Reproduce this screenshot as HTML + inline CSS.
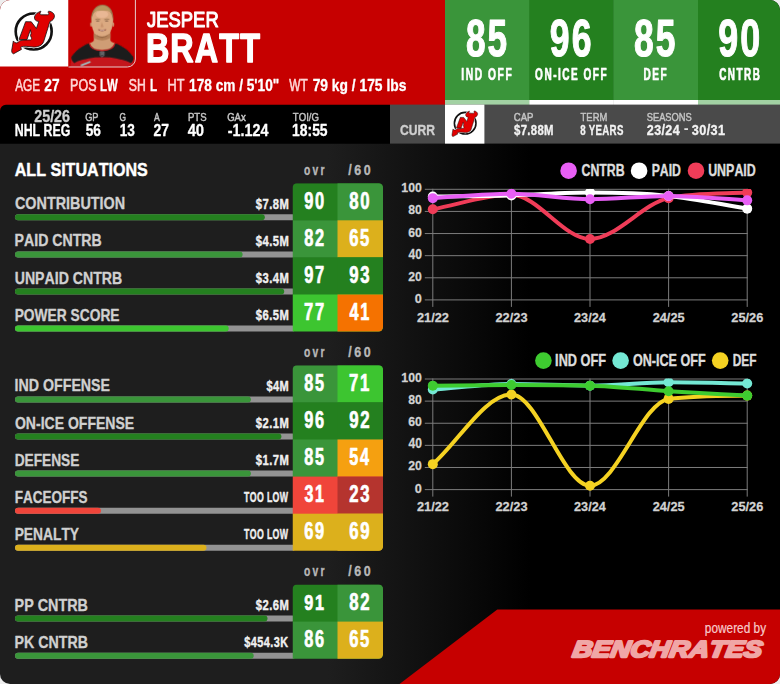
<!DOCTYPE html>
<html><head><meta charset="utf-8"><title>Jesper Bratt</title>
<style>
html,body{margin:0;padding:0;background:#eeeeee;}
body{width:780px;height:684px;overflow:hidden;font-family:"Liberation Sans",sans-serif;}
svg{display:block;font-family:"Liberation Sans",sans-serif;font-kerning:none;}
text{white-space:pre;}
</style></head><body>
<svg width="780" height="684" viewBox="0 0 780 684">
<defs>
<clipPath id="card"><rect x="0" y="0" width="780" height="684" rx="10" ry="10"/></clipPath>
<linearGradient id="bgg" x1="0" y1="0" x2="1" y2="0">
<stop offset="0" stop-color="#1e1e1e"/><stop offset="0.42" stop-color="#1e1e1e"/><stop offset="0.68" stop-color="#000"/><stop offset="1" stop-color="#000"/>
</linearGradient>
<clipPath id="photoclip"><path d="M68.5 0H135.4V59a8 8 0 0 1-8 8H68.5Z"/></clipPath>
<filter id="soft" x="-5%" y="-5%" width="110%" height="110%"><feGaussianBlur stdDeviation="3.2"/></filter>
<g id="devil">
<circle cx="327" cy="302" r="205" fill="#fff" stroke="#111" stroke-width="30"/>
<path d="M235 190L300 192L358 268L385 188C350 186 332 165 336 135C345 100 380 82 408 70C410 74 406 80 402 88C395 100 400 112 420 112L485 112C500 112 505 100 495 92C490 80 492 72 500 70C535 75 558 95 563 118C568 150 545 180 512 188L440 420C425 460 380 480 330 480L250 472C220 470 195 472 178 482L188 506L98 556C85 555 78 545 76 520L95 410L112 428C135 440 150 425 165 410C200 395 250 400 290 398C310 395 305 375 290 350L298 322L290 282L250 395L160 392Z" fill="#fff" stroke="#fff" stroke-width="24" stroke-linejoin="round"/>
<path d="M235 190L300 192L358 268L385 188C350 186 332 165 336 135C345 100 380 82 408 70C410 74 406 80 402 88C395 100 400 112 420 112L485 112C500 112 505 100 495 92C490 80 492 72 500 70C535 75 558 95 563 118C568 150 545 180 512 188L440 420C425 460 380 480 330 480L250 472C220 470 195 472 178 482L188 506L98 556C85 555 78 545 76 520L95 410L112 428C135 440 150 425 165 410C200 395 250 400 290 398C310 395 305 375 290 350L298 322L290 282L250 395L160 392Z" fill="#e00000" stroke="#111" stroke-width="9" stroke-linejoin="round"/>
</g>
</defs>
<g clip-path="url(#card)">
<rect width="780" height="684" fill="url(#bgg)"/>
<rect x="0" y="0" width="446" height="116" fill="#c60000"/>
<rect x="0" y="0" width="68.5" height="66.5" fill="#fff"/>
<use href="#devil" transform="translate(5,5) scale(0.08772)"/>
<path d="M68.5 0H135.4V59a8 8 0 0 1-8 8H68.5Z" fill="#c60000"/>
<g clip-path="url(#photoclip)"><g transform="translate(66,0) scale(0.10225)" filter="url(#soft)">
<path d="M55 560L40 670H665L655 560L528 560L357 540L186 560Z" fill="#c4181c"/>
<path d="M221 424C150 450 90 500 55 553C45 575 60 600 81 618C120 590 200 575 284 562L357 560L430 562C510 575 590 590 636 618C655 600 668 575 655 553C620 500 560 450 484 424L352 500Z" fill="#1d1d1f"/>
<path d="M272 300H434V395C440 410 460 418 478 420C470 470 420 492 352 492C285 492 236 470 228 420C246 418 266 410 272 395Z" fill="#cf9d74"/>
<path d="M272 330H434V372Q352 420 272 372Z" fill="#a9774f" opacity="0.75"/>
<path d="M228 420C236 470 285 494 352 494C420 494 470 470 478 420" fill="none" stroke="#c8161c" stroke-width="12"/>
<path d="M248 200C246 120 290 60 354 60C420 60 462 120 459 200C458 270 440 310 410 340C385 362 320 362 295 340C265 310 250 270 248 200Z" fill="#dba981"/>
<ellipse cx="245" cy="238" rx="9" ry="22" fill="#cf9872"/><ellipse cx="462" cy="238" rx="9" ry="22" fill="#cf9872"/>
<ellipse cx="352" cy="140" rx="62" ry="36" fill="#f0bd9c" opacity="0.7"/>
<path d="M246 215C236 110 290 45 358 47C428 48 472 110 462 215C456 160 440 120 420 108C390 96 320 96 292 108C268 122 252 160 246 215Z" fill="#9c7a50"/>
<path d="M268 120C290 70 330 55 358 55C390 55 425 72 442 120C410 92 300 92 268 120Z" fill="#b8965f"/>
<path d="M286 190Q310 180 336 192M374 192Q398 180 424 190" stroke="#8f6a48" stroke-width="9" fill="none" opacity="0.8"/>
<ellipse cx="310" cy="205" rx="18" ry="8" fill="#7d5a40" opacity="0.75"/><ellipse cx="398" cy="205" rx="18" ry="8" fill="#7d5a40" opacity="0.75"/>
<path d="M350 215L338 262Q352 272 368 262Z" fill="#c48d68" opacity="0.8"/>
<path d="M316 290Q352 318 392 290Q352 300 316 290Z" fill="#8a4a40" stroke="#8a4a40" stroke-width="5"/>
<path d="M334 296Q352 302 374 296" stroke="#f3e6de" stroke-width="6" fill="none"/>
<path d="M300 345Q352 385 406 345" stroke="#8a5c3e" stroke-width="10" fill="none" opacity="0.7"/>
<path d="M334 506H372V542L353 556L334 542Z" fill="#3a3a3e" stroke="#a8a8ac" stroke-width="5"/>
<path d="M342 518H364M342 530H364" stroke="#c8c8cc" stroke-width="4"/>
<path d="M140 632L235 596L242 610L150 648Z" fill="#9cc4c8"/>
</g></g>
<path d="M135.4 0V59a8 8 0 0 1-8 8H68.5" fill="none" stroke="#e6cccc" stroke-width="1"/>
<text transform="translate(147.01 26.80) scale(0.8403 1)" font-size="21.95" font-weight="normal" fill="#fff" stroke="#fff" stroke-width="1.0" vector-effect="non-scaling-stroke" stroke-linejoin="round">JESPER</text>
<text transform="translate(145.89 62.20) scale(0.7863 1)" font-size="41.13" font-weight="bold" fill="#fff" letter-spacing="1.44" stroke="#fff" stroke-width="1.3" vector-effect="non-scaling-stroke" stroke-linejoin="round">BRATT</text>
<text transform="translate(15.23 90.80) scale(0.7520 1)" font-size="15.70" font-weight="normal" fill="#ffd6d6" stroke="#ffd6d6" stroke-width="0.5" vector-effect="non-scaling-stroke" stroke-linejoin="round">AGE</text>
<text transform="translate(44.37 90.80) scale(0.8751 1)" font-size="15.70" font-weight="bold" fill="#fff" stroke="#fff" stroke-width="0.3" vector-effect="non-scaling-stroke" stroke-linejoin="round">27</text>
<text transform="translate(70.12 90.80) scale(0.7963 1)" font-size="15.70" font-weight="normal" fill="#ffd6d6" stroke="#ffd6d6" stroke-width="0.5" vector-effect="non-scaling-stroke" stroke-linejoin="round">POS</text>
<text transform="translate(100.09 90.80) scale(0.7284 1)" font-size="15.70" font-weight="bold" fill="#fff" stroke="#fff" stroke-width="0.3" vector-effect="non-scaling-stroke" stroke-linejoin="round">LW</text>
<text transform="translate(128.80 90.80) scale(0.7772 1)" font-size="15.70" font-weight="normal" fill="#ffd6d6" stroke="#ffd6d6" stroke-width="0.5" vector-effect="non-scaling-stroke" stroke-linejoin="round">SH</text>
<text transform="translate(150.07 90.80) scale(0.7448 1)" font-size="15.70" font-weight="bold" fill="#fff" stroke="#fff" stroke-width="0.3" vector-effect="non-scaling-stroke" stroke-linejoin="round">L</text>
<text transform="translate(167.51 90.80) scale(0.8092 1)" font-size="15.70" font-weight="normal" fill="#ffd6d6" stroke="#ffd6d6" stroke-width="0.5" vector-effect="non-scaling-stroke" stroke-linejoin="round">HT</text>
<text transform="translate(189.09 90.80) scale(0.8705 1)" font-size="15.70" font-weight="bold" fill="#fff" stroke="#fff" stroke-width="0.3" vector-effect="non-scaling-stroke" stroke-linejoin="round">178 cm / 5'10&quot;</text>
<text transform="translate(289.30 90.80) scale(0.7591 1)" font-size="15.70" font-weight="normal" fill="#ffd6d6" stroke="#ffd6d6" stroke-width="0.5" vector-effect="non-scaling-stroke" stroke-linejoin="round">WT</text>
<text transform="translate(312.66 90.80) scale(0.8807 1)" font-size="15.70" font-weight="bold" fill="#fff" stroke="#fff" stroke-width="0.3" vector-effect="non-scaling-stroke" stroke-linejoin="round">79 kg / 175 lbs</text>
<rect x="445" y="0" width="84.9" height="100" fill="#3a953a"/>
<rect x="445" y="100" width="84.9" height="5" fill="#a2d1a3"/>
<text transform="translate(465.88 56.40) scale(0.6867 1)" font-size="51.30" font-weight="bold" fill="#fff" letter-spacing="3.08" stroke="#fff" stroke-width="1.0" vector-effect="non-scaling-stroke" stroke-linejoin="round">85</text>
<text transform="translate(461.29 79.90) scale(0.6210 1)" font-size="16.57" font-weight="bold" fill="#fff" letter-spacing="2.49" stroke="#fff" stroke-width="0.55" vector-effect="non-scaling-stroke" stroke-linejoin="round">IND OFF</text>
<rect x="529.4" y="0" width="84.4" height="100" fill="#24801f"/>
<rect x="529.4" y="100" width="84.4" height="5" fill="#fff"/>
<text transform="translate(549.87 56.40) scale(0.6937 1)" font-size="51.30" font-weight="bold" fill="#fff" letter-spacing="3.08" stroke="#fff" stroke-width="1.0" vector-effect="non-scaling-stroke" stroke-linejoin="round">96</text>
<text transform="translate(535.06 79.90) scale(0.6065 1)" font-size="16.57" font-weight="bold" fill="#fff" letter-spacing="2.49" stroke="#fff" stroke-width="0.55" vector-effect="non-scaling-stroke" stroke-linejoin="round">ON-ICE OFF</text>
<rect x="613.3" y="0" width="85.2" height="100" fill="#3a953a"/>
<rect x="613.3" y="100" width="85.2" height="5" fill="#fff"/>
<text transform="translate(633.98 56.40) scale(0.6902 1)" font-size="51.30" font-weight="bold" fill="#fff" letter-spacing="3.08" stroke="#fff" stroke-width="1.0" vector-effect="non-scaling-stroke" stroke-linejoin="round">85</text>
<text transform="translate(643.40 79.90) scale(0.6086 1)" font-size="16.57" font-weight="bold" fill="#fff" letter-spacing="2.49" stroke="#fff" stroke-width="0.55" vector-effect="non-scaling-stroke" stroke-linejoin="round">DEF</text>
<rect x="698" y="0" width="82.5" height="100" fill="#24801f"/>
<rect x="698" y="100" width="82.5" height="5" fill="#a2d1a3"/>
<text transform="translate(718.16 56.40) scale(0.6986 1)" font-size="51.30" font-weight="bold" fill="#fff" letter-spacing="3.08" stroke="#fff" stroke-width="1.0" vector-effect="non-scaling-stroke" stroke-linejoin="round">90</text>
<text transform="translate(719.17 79.90) scale(0.5993 1)" font-size="16.57" font-weight="bold" fill="#fff" letter-spacing="2.49" stroke="#fff" stroke-width="0.55" vector-effect="non-scaling-stroke" stroke-linejoin="round">CNTRB</text>
<path d="M0 143.7V110.7a6 6 0 0 1 6-6H390V143.7Z" fill="#000"/>
<rect x="390" y="104.6" width="390" height="39" fill="#4a4a4a"/>
<rect x="445" y="104.6" width="39.4" height="39" fill="#fff"/>
<use href="#devil" transform="translate(447.95,107.3) scale(0.0527)"/>
<text transform="translate(34.25 121.90) scale(0.8951 1)" font-size="15.99" font-weight="bold" fill="#cfcfcf" stroke="#cfcfcf" stroke-width="0.3" vector-effect="non-scaling-stroke" stroke-linejoin="round">25/26</text>
<text transform="translate(14.72 135.60) scale(0.7798 1)" font-size="15.84" font-weight="bold" fill="#fff" stroke="#fff" stroke-width="0.3" vector-effect="non-scaling-stroke" stroke-linejoin="round">NHL REG</text>
<text transform="translate(85.16 120.90) scale(0.7800 1)" font-size="11.80" font-weight="normal" fill="#c4c4c4" stroke="#c4c4c4" stroke-width="0.45" vector-effect="non-scaling-stroke" stroke-linejoin="round">GP</text>
<text transform="translate(85.63 135.60) scale(0.8634 1)" font-size="15.84" font-weight="bold" fill="#fff" stroke="#fff" stroke-width="0.3" vector-effect="non-scaling-stroke" stroke-linejoin="round">56</text>
<text transform="translate(119.51 120.90) scale(0.7075 1)" font-size="11.80" font-weight="normal" fill="#c4c4c4" stroke="#c4c4c4" stroke-width="0.45" vector-effect="non-scaling-stroke" stroke-linejoin="round">G</text>
<text transform="translate(119.79 135.60) scale(0.8597 1)" font-size="15.84" font-weight="bold" fill="#fff" stroke="#fff" stroke-width="0.3" vector-effect="non-scaling-stroke" stroke-linejoin="round">13</text>
<text transform="translate(154.01 120.90) scale(0.7349 1)" font-size="11.80" font-weight="normal" fill="#c4c4c4" stroke="#c4c4c4" stroke-width="0.45" vector-effect="non-scaling-stroke" stroke-linejoin="round">A</text>
<text transform="translate(153.47 135.60) scale(0.8793 1)" font-size="15.84" font-weight="bold" fill="#fff" stroke="#fff" stroke-width="0.3" vector-effect="non-scaling-stroke" stroke-linejoin="round">27</text>
<text transform="translate(187.94 120.90) scale(0.8139 1)" font-size="11.80" font-weight="normal" fill="#c4c4c4" stroke="#c4c4c4" stroke-width="0.45" vector-effect="non-scaling-stroke" stroke-linejoin="round">PTS</text>
<text transform="translate(187.63 135.60) scale(0.9323 1)" font-size="15.84" font-weight="bold" fill="#fff" stroke="#fff" stroke-width="0.3" vector-effect="non-scaling-stroke" stroke-linejoin="round">40</text>
<text transform="translate(227.14 120.90) scale(0.8120 1)" font-size="11.80" font-weight="normal" fill="#c4c4c4" stroke="#c4c4c4" stroke-width="0.45" vector-effect="non-scaling-stroke" stroke-linejoin="round">GAx</text>
<text transform="translate(227.79 135.60) scale(0.9046 1)" font-size="15.84" font-weight="bold" fill="#fff" stroke="#fff" stroke-width="0.3" vector-effect="non-scaling-stroke" stroke-linejoin="round">-1.124</text>
<text transform="translate(292.81 120.90) scale(0.8152 1)" font-size="11.80" font-weight="normal" fill="#c4c4c4" stroke="#c4c4c4" stroke-width="0.45" vector-effect="non-scaling-stroke" stroke-linejoin="round">TOI/G</text>
<text transform="translate(292.07 135.60) scale(0.8777 1)" font-size="15.84" font-weight="bold" fill="#fff" stroke="#fff" stroke-width="0.3" vector-effect="non-scaling-stroke" stroke-linejoin="round">18:55</text>
<text transform="translate(400.08 135.40) scale(0.7790 1)" font-size="15.55" font-weight="bold" fill="#cfcfcf" stroke="#cfcfcf" stroke-width="0.35" vector-effect="non-scaling-stroke" stroke-linejoin="round">CURR</text>
<text transform="translate(513.74 121.30) scale(0.8138 1)" font-size="11.80" font-weight="normal" fill="#c4c4c4" stroke="#c4c4c4" stroke-width="0.45" vector-effect="non-scaling-stroke" stroke-linejoin="round">CAP</text>
<text transform="translate(514.00 135.30) scale(0.8230 1)" font-size="13.81" font-weight="bold" fill="#f2f2f2" letter-spacing="0.41" stroke="#f2f2f2" stroke-width="0.3" vector-effect="non-scaling-stroke" stroke-linejoin="round">$7.88M</text>
<text transform="translate(580.61 121.30) scale(0.7998 1)" font-size="11.80" font-weight="normal" fill="#c4c4c4" stroke="#c4c4c4" stroke-width="0.45" vector-effect="non-scaling-stroke" stroke-linejoin="round">TERM</text>
<text transform="translate(580.14 135.30) scale(0.7030 1)" font-size="13.81" font-weight="bold" fill="#f2f2f2" letter-spacing="0.41" stroke="#f2f2f2" stroke-width="0.3" vector-effect="non-scaling-stroke" stroke-linejoin="round">8 YEARS</text>
<text transform="translate(646.70 121.30) scale(0.7923 1)" font-size="11.80" font-weight="normal" fill="#c4c4c4" stroke="#c4c4c4" stroke-width="0.45" vector-effect="non-scaling-stroke" stroke-linejoin="round">SEASONS</text>
<text transform="translate(646.82 135.30) scale(0.9086 1)" font-size="13.81" font-weight="bold" fill="#f2f2f2" letter-spacing="0.41" stroke="#f2f2f2" stroke-width="0.3" vector-effect="non-scaling-stroke" stroke-linejoin="round">23/24</text>
<rect x="684.3" y="128.3" width="3.7" height="1.6" fill="#f2f2f2"/>
<text transform="translate(691.76 135.30) scale(0.9209 1)" font-size="13.81" font-weight="bold" fill="#f2f2f2" letter-spacing="0.41" stroke="#f2f2f2" stroke-width="0.3" vector-effect="non-scaling-stroke" stroke-linejoin="round">30/31</text>
<text transform="translate(14.70 175.90) scale(0.9145 1)" font-size="17.59" font-weight="bold" fill="#fff" stroke="#fff" stroke-width="0.4" vector-effect="non-scaling-stroke" stroke-linejoin="round">ALL SITUATIONS</text>
<text transform="translate(303.97 174.80) scale(0.7036 1)" font-size="14.60" font-weight="bold" fill="#b8b8b8" letter-spacing="3.21" stroke="#b8b8b8" stroke-width="0.35" vector-effect="non-scaling-stroke" stroke-linejoin="round">ovr</text>
<text transform="translate(348.35 174.80) scale(0.8704 1)" font-size="14.30" font-weight="bold" fill="#b8b8b8" letter-spacing="2.86" stroke="#b8b8b8" stroke-width="0.35" vector-effect="non-scaling-stroke" stroke-linejoin="round">/60</text>
<clipPath id="cc0"><path d="M292.5 331.6V187.7a4.5 4.5 0 0 1 4.5 -4.5H378.5a4.5 4.5 0 0 1 4.5 4.5V327.1a4.5 4.5 0 0 1 -4.5 4.5Z"/></clipPath>
<text transform="translate(14.96 209.30) scale(0.8605 1)" font-size="16.72" font-weight="bold" fill="#d0d0d0" stroke="#d0d0d0" stroke-width="0.3" vector-effect="non-scaling-stroke" stroke-linejoin="round">CONTRIBUTION</text>
<text transform="translate(255.83 208.90) scale(0.7869 1)" font-size="14.24" font-weight="bold" fill="#f0f0f0" letter-spacing="0.57" stroke="#f0f0f0" stroke-width="0.35" vector-effect="non-scaling-stroke" stroke-linejoin="round">$7.8M</text>
<rect x="15" y="214.3" width="280.5" height="6" rx="3" fill="#939393"/>
<rect x="15" y="214.3" width="249.8" height="6" rx="3" fill="#24801f"/>
<text transform="translate(14.60 246.40) scale(0.8459 1)" font-size="16.72" font-weight="bold" fill="#d0d0d0" stroke="#d0d0d0" stroke-width="0.3" vector-effect="non-scaling-stroke" stroke-linejoin="round">PAID CNTRB</text>
<text transform="translate(255.83 246.00) scale(0.7869 1)" font-size="14.24" font-weight="bold" fill="#f0f0f0" letter-spacing="0.57" stroke="#f0f0f0" stroke-width="0.35" vector-effect="non-scaling-stroke" stroke-linejoin="round">$4.5M</text>
<rect x="15" y="251.4" width="280.5" height="6" rx="3" fill="#939393"/>
<rect x="15" y="251.4" width="227.6" height="6" rx="3" fill="#3a953a"/>
<text transform="translate(14.70 283.50) scale(0.8457 1)" font-size="16.72" font-weight="bold" fill="#d0d0d0" stroke="#d0d0d0" stroke-width="0.3" vector-effect="non-scaling-stroke" stroke-linejoin="round">UNPAID CNTRB</text>
<text transform="translate(255.83 283.10) scale(0.7869 1)" font-size="14.24" font-weight="bold" fill="#f0f0f0" letter-spacing="0.57" stroke="#f0f0f0" stroke-width="0.35" vector-effect="non-scaling-stroke" stroke-linejoin="round">$3.4M</text>
<rect x="15" y="288.5" width="280.5" height="6" rx="3" fill="#939393"/>
<rect x="15" y="288.5" width="269.2" height="6" rx="3" fill="#24801f"/>
<text transform="translate(14.63 320.60) scale(0.8250 1)" font-size="16.72" font-weight="bold" fill="#d0d0d0" stroke="#d0d0d0" stroke-width="0.3" vector-effect="non-scaling-stroke" stroke-linejoin="round">POWER SCORE</text>
<text transform="translate(255.83 320.20) scale(0.7869 1)" font-size="14.24" font-weight="bold" fill="#f0f0f0" letter-spacing="0.57" stroke="#f0f0f0" stroke-width="0.35" vector-effect="non-scaling-stroke" stroke-linejoin="round">$6.5M</text>
<rect x="15" y="325.6" width="280.5" height="6" rx="3" fill="#939393"/>
<rect x="15" y="325.6" width="213.7" height="6" rx="3" fill="#3dc530"/>
<g clip-path="url(#cc0)">
<rect x="292.5" y="183.2" width="90.5" height="37.6" fill="#24801f"/>
<rect x="337.5" y="183.2" width="45.5" height="37.6" fill="#3a953a"/>
<rect x="292.5" y="220.3" width="90.5" height="37.6" fill="#3a953a"/>
<rect x="337.5" y="220.3" width="45.5" height="37.6" fill="#dcb01c"/>
<rect x="292.5" y="257.4" width="90.5" height="37.6" fill="#24801f"/>
<rect x="337.5" y="257.4" width="45.5" height="37.6" fill="#24801f"/>
<rect x="292.5" y="294.5" width="90.5" height="37.6" fill="#3dc530"/>
<rect x="337.5" y="294.5" width="45.5" height="37.6" fill="#f57200"/>
</g>
<text transform="translate(304.23 208.50) scale(0.7153 1)" font-size="23.00" font-weight="bold" fill="#fff" letter-spacing="2.30" stroke="#fff" stroke-width="0.6" vector-effect="non-scaling-stroke" stroke-linejoin="round">90</text>
<text transform="translate(349.27 208.50) scale(0.7287 1)" font-size="23.00" font-weight="bold" fill="#fff" letter-spacing="2.30" stroke="#fff" stroke-width="0.6" vector-effect="non-scaling-stroke" stroke-linejoin="round">80</text>
<text transform="translate(304.28 245.60) scale(0.7129 1)" font-size="23.00" font-weight="bold" fill="#fff" letter-spacing="2.30" stroke="#fff" stroke-width="0.6" vector-effect="non-scaling-stroke" stroke-linejoin="round">82</text>
<text transform="translate(349.19 245.60) scale(0.7235 1)" font-size="23.00" font-weight="bold" fill="#fff" letter-spacing="2.30" stroke="#fff" stroke-width="0.6" vector-effect="non-scaling-stroke" stroke-linejoin="round">65</text>
<text transform="translate(304.23 282.70) scale(0.7172 1)" font-size="23.00" font-weight="bold" fill="#fff" letter-spacing="2.30" stroke="#fff" stroke-width="0.6" vector-effect="non-scaling-stroke" stroke-linejoin="round">97</text>
<text transform="translate(349.22 282.70) scale(0.7275 1)" font-size="23.00" font-weight="bold" fill="#fff" letter-spacing="2.30" stroke="#fff" stroke-width="0.6" vector-effect="non-scaling-stroke" stroke-linejoin="round">93</text>
<text transform="translate(304.09 319.80) scale(0.7225 1)" font-size="23.00" font-weight="bold" fill="#fff" letter-spacing="2.30" stroke="#fff" stroke-width="0.6" vector-effect="non-scaling-stroke" stroke-linejoin="round">77</text>
<text transform="translate(349.55 319.80) scale(0.7102 1)" font-size="23.00" font-weight="bold" fill="#fff" letter-spacing="2.30" stroke="#fff" stroke-width="0.6" vector-effect="non-scaling-stroke" stroke-linejoin="round">41</text>
<text transform="translate(303.97 356.90) scale(0.7036 1)" font-size="14.60" font-weight="bold" fill="#b8b8b8" letter-spacing="3.21" stroke="#b8b8b8" stroke-width="0.35" vector-effect="non-scaling-stroke" stroke-linejoin="round">ovr</text>
<text transform="translate(348.35 356.90) scale(0.8704 1)" font-size="14.30" font-weight="bold" fill="#b8b8b8" letter-spacing="2.86" stroke="#b8b8b8" stroke-width="0.35" vector-effect="non-scaling-stroke" stroke-linejoin="round">/60</text>
<clipPath id="cc1"><path d="M292.5 550.8V369.8a4.5 4.5 0 0 1 4.5 -4.5H378.5a4.5 4.5 0 0 1 4.5 4.5V546.3a4.5 4.5 0 0 1 -4.5 4.5Z"/></clipPath>
<text transform="translate(14.60 391.40) scale(0.8499 1)" font-size="16.72" font-weight="bold" fill="#d0d0d0" stroke="#d0d0d0" stroke-width="0.3" vector-effect="non-scaling-stroke" stroke-linejoin="round">IND OFFENSE</text>
<text transform="translate(266.53 391.00) scale(0.7705 1)" font-size="14.24" font-weight="bold" fill="#f0f0f0" letter-spacing="0.57" stroke="#f0f0f0" stroke-width="0.35" vector-effect="non-scaling-stroke" stroke-linejoin="round">$4M</text>
<rect x="15" y="396.4" width="280.5" height="6" rx="3" fill="#939393"/>
<rect x="15" y="396.4" width="235.9" height="6" rx="3" fill="#3a953a"/>
<text transform="translate(14.97 428.50) scale(0.8391 1)" font-size="16.72" font-weight="bold" fill="#d0d0d0" stroke="#d0d0d0" stroke-width="0.3" vector-effect="non-scaling-stroke" stroke-linejoin="round">ON-ICE OFFENSE</text>
<text transform="translate(255.83 428.10) scale(0.7869 1)" font-size="14.24" font-weight="bold" fill="#f0f0f0" letter-spacing="0.57" stroke="#f0f0f0" stroke-width="0.35" vector-effect="non-scaling-stroke" stroke-linejoin="round">$2.1M</text>
<rect x="15" y="433.5" width="280.5" height="6" rx="3" fill="#939393"/>
<rect x="15" y="433.5" width="266.4" height="6" rx="3" fill="#24801f"/>
<text transform="translate(14.63 465.60) scale(0.8202 1)" font-size="16.72" font-weight="bold" fill="#d0d0d0" stroke="#d0d0d0" stroke-width="0.3" vector-effect="non-scaling-stroke" stroke-linejoin="round">DEFENSE</text>
<text transform="translate(255.83 465.20) scale(0.7869 1)" font-size="14.24" font-weight="bold" fill="#f0f0f0" letter-spacing="0.57" stroke="#f0f0f0" stroke-width="0.35" vector-effect="non-scaling-stroke" stroke-linejoin="round">$1.7M</text>
<rect x="15" y="470.6" width="280.5" height="6" rx="3" fill="#939393"/>
<rect x="15" y="470.6" width="235.9" height="6" rx="3" fill="#3a953a"/>
<text transform="translate(14.64 502.70) scale(0.8097 1)" font-size="16.72" font-weight="bold" fill="#d0d0d0" stroke="#d0d0d0" stroke-width="0.3" vector-effect="non-scaling-stroke" stroke-linejoin="round">FACEOFFS</text>
<text transform="translate(244.08 502.30) scale(0.6151 1)" font-size="14.24" font-weight="bold" fill="#f0f0f0" letter-spacing="0.57" stroke="#f0f0f0" stroke-width="0.35" vector-effect="non-scaling-stroke" stroke-linejoin="round">TOO LOW</text>
<rect x="15" y="507.7" width="280.5" height="6" rx="3" fill="#939393"/>
<rect x="15" y="507.7" width="86.0" height="6" rx="3" fill="#f0453a"/>
<text transform="translate(14.63 539.80) scale(0.8261 1)" font-size="16.72" font-weight="bold" fill="#d0d0d0" stroke="#d0d0d0" stroke-width="0.3" vector-effect="non-scaling-stroke" stroke-linejoin="round">PENALTY</text>
<text transform="translate(244.08 539.40) scale(0.6151 1)" font-size="14.24" font-weight="bold" fill="#f0f0f0" letter-spacing="0.57" stroke="#f0f0f0" stroke-width="0.35" vector-effect="non-scaling-stroke" stroke-linejoin="round">TOO LOW</text>
<rect x="15" y="544.8" width="280.5" height="6" rx="3" fill="#939393"/>
<rect x="15" y="544.8" width="191.5" height="6" rx="3" fill="#dcb01c"/>
<g clip-path="url(#cc1)">
<rect x="292.5" y="365.3" width="90.5" height="37.6" fill="#3a953a"/>
<rect x="337.5" y="365.3" width="45.5" height="37.6" fill="#3dc530"/>
<rect x="292.5" y="402.4" width="90.5" height="37.6" fill="#24801f"/>
<rect x="337.5" y="402.4" width="45.5" height="37.6" fill="#24801f"/>
<rect x="292.5" y="439.5" width="90.5" height="37.6" fill="#3a953a"/>
<rect x="337.5" y="439.5" width="45.5" height="37.6" fill="#f5a010"/>
<rect x="292.5" y="476.6" width="90.5" height="37.6" fill="#f0453a"/>
<rect x="337.5" y="476.6" width="45.5" height="37.6" fill="#b5342e"/>
<rect x="292.5" y="513.7" width="90.5" height="37.6" fill="#dcb01c"/>
<rect x="337.5" y="513.7" width="45.5" height="37.6" fill="#dcb01c"/>
</g>
<text transform="translate(304.29 390.60) scale(0.7053 1)" font-size="23.00" font-weight="bold" fill="#fff" letter-spacing="2.30" stroke="#fff" stroke-width="0.6" vector-effect="non-scaling-stroke" stroke-linejoin="round">85</text>
<text transform="translate(349.08 390.60) scale(0.7275 1)" font-size="23.00" font-weight="bold" fill="#fff" letter-spacing="2.30" stroke="#fff" stroke-width="0.6" vector-effect="non-scaling-stroke" stroke-linejoin="round">71</text>
<text transform="translate(304.23 427.70) scale(0.7123 1)" font-size="23.00" font-weight="bold" fill="#fff" letter-spacing="2.30" stroke="#fff" stroke-width="0.6" vector-effect="non-scaling-stroke" stroke-linejoin="round">96</text>
<text transform="translate(349.22 427.70) scale(0.7300 1)" font-size="23.00" font-weight="bold" fill="#fff" letter-spacing="2.30" stroke="#fff" stroke-width="0.6" vector-effect="non-scaling-stroke" stroke-linejoin="round">92</text>
<text transform="translate(304.29 464.80) scale(0.7053 1)" font-size="23.00" font-weight="bold" fill="#fff" letter-spacing="2.30" stroke="#fff" stroke-width="0.6" vector-effect="non-scaling-stroke" stroke-linejoin="round">85</text>
<text transform="translate(349.30 464.80) scale(0.7060 1)" font-size="23.00" font-weight="bold" fill="#fff" letter-spacing="2.30" stroke="#fff" stroke-width="0.6" vector-effect="non-scaling-stroke" stroke-linejoin="round">54</text>
<text transform="translate(304.43 501.90) scale(0.7000 1)" font-size="23.00" font-weight="bold" fill="#fff" letter-spacing="2.30" stroke="#fff" stroke-width="0.6" vector-effect="non-scaling-stroke" stroke-linejoin="round">31</text>
<text transform="translate(349.22 501.90) scale(0.7275 1)" font-size="23.00" font-weight="bold" fill="#fff" letter-spacing="2.30" stroke="#fff" stroke-width="0.6" vector-effect="non-scaling-stroke" stroke-linejoin="round">23</text>
<text transform="translate(304.20 539.00) scale(0.7141 1)" font-size="23.00" font-weight="bold" fill="#fff" letter-spacing="2.30" stroke="#fff" stroke-width="0.6" vector-effect="non-scaling-stroke" stroke-linejoin="round">69</text>
<text transform="translate(349.19 539.00) scale(0.7294 1)" font-size="23.00" font-weight="bold" fill="#fff" letter-spacing="2.30" stroke="#fff" stroke-width="0.6" vector-effect="non-scaling-stroke" stroke-linejoin="round">69</text>
<text transform="translate(303.97 576.10) scale(0.7036 1)" font-size="14.60" font-weight="bold" fill="#b8b8b8" letter-spacing="3.21" stroke="#b8b8b8" stroke-width="0.35" vector-effect="non-scaling-stroke" stroke-linejoin="round">ovr</text>
<text transform="translate(348.35 576.10) scale(0.8704 1)" font-size="14.30" font-weight="bold" fill="#b8b8b8" letter-spacing="2.86" stroke="#b8b8b8" stroke-width="0.35" vector-effect="non-scaling-stroke" stroke-linejoin="round">/60</text>
<clipPath id="cc2"><path d="M292.5 658.7V589.0a4.5 4.5 0 0 1 4.5 -4.5H378.5a4.5 4.5 0 0 1 4.5 4.5V654.2a4.5 4.5 0 0 1 -4.5 4.5Z"/></clipPath>
<text transform="translate(14.59 610.60) scale(0.8593 1)" font-size="16.72" font-weight="bold" fill="#d0d0d0" stroke="#d0d0d0" stroke-width="0.3" vector-effect="non-scaling-stroke" stroke-linejoin="round">PP CNTRB</text>
<text transform="translate(255.83 610.20) scale(0.7869 1)" font-size="14.24" font-weight="bold" fill="#f0f0f0" letter-spacing="0.57" stroke="#f0f0f0" stroke-width="0.35" vector-effect="non-scaling-stroke" stroke-linejoin="round">$2.6M</text>
<rect x="15" y="615.6" width="280.5" height="6" rx="3" fill="#939393"/>
<rect x="15" y="615.6" width="252.5" height="6" rx="3" fill="#24801f"/>
<text transform="translate(14.60 647.70) scale(0.8499 1)" font-size="16.72" font-weight="bold" fill="#d0d0d0" stroke="#d0d0d0" stroke-width="0.3" vector-effect="non-scaling-stroke" stroke-linejoin="round">PK CNTRB</text>
<text transform="translate(244.33 647.30) scale(0.7647 1)" font-size="14.24" font-weight="bold" fill="#f0f0f0" letter-spacing="0.57" stroke="#f0f0f0" stroke-width="0.35" vector-effect="non-scaling-stroke" stroke-linejoin="round">$454.3K</text>
<rect x="15" y="652.7" width="280.5" height="6" rx="3" fill="#939393"/>
<rect x="15" y="652.7" width="238.7" height="6" rx="3" fill="#3a953a"/>
<g clip-path="url(#cc2)">
<rect x="292.5" y="584.5" width="90.5" height="37.6" fill="#24801f"/>
<rect x="337.5" y="584.5" width="45.5" height="37.6" fill="#3a953a"/>
<rect x="292.5" y="621.6" width="90.5" height="37.6" fill="#3a953a"/>
<rect x="337.5" y="621.6" width="45.5" height="37.6" fill="#dcb01c"/>
</g>
<text transform="translate(304.24 609.80) scale(0.7071 1)" font-size="23.00" font-weight="bold" fill="#fff" letter-spacing="2.30" stroke="#fff" stroke-width="0.6" vector-effect="non-scaling-stroke" stroke-linejoin="round">91</text>
<text transform="translate(349.27 609.80) scale(0.7281 1)" font-size="23.00" font-weight="bold" fill="#fff" letter-spacing="2.30" stroke="#fff" stroke-width="0.6" vector-effect="non-scaling-stroke" stroke-linejoin="round">82</text>
<text transform="translate(304.28 646.90) scale(0.7104 1)" font-size="23.00" font-weight="bold" fill="#fff" letter-spacing="2.30" stroke="#fff" stroke-width="0.6" vector-effect="non-scaling-stroke" stroke-linejoin="round">86</text>
<text transform="translate(349.19 646.90) scale(0.7235 1)" font-size="23.00" font-weight="bold" fill="#fff" letter-spacing="2.30" stroke="#fff" stroke-width="0.6" vector-effect="non-scaling-stroke" stroke-linejoin="round">65</text>
<rect x="424.8" y="188.80" width="322.9" height="1" fill="#7c7c7c"/>
<text transform="translate(401.35 192.30) scale(0.8981 1)" font-size="13.70" font-weight="bold" fill="#d2d2d2" stroke="#d2d2d2" stroke-width="0.25" vector-effect="non-scaling-stroke" stroke-linejoin="round">100</text>
<rect x="424.8" y="210.92" width="322.9" height="1" fill="#7c7c7c"/>
<text transform="translate(408.24 214.42) scale(0.8952 1)" font-size="13.70" font-weight="bold" fill="#d2d2d2" stroke="#d2d2d2" stroke-width="0.25" vector-effect="non-scaling-stroke" stroke-linejoin="round">80</text>
<rect x="424.8" y="233.04" width="322.9" height="1" fill="#7c7c7c"/>
<text transform="translate(408.17 236.54) scale(0.8995 1)" font-size="13.70" font-weight="bold" fill="#d2d2d2" stroke="#d2d2d2" stroke-width="0.25" vector-effect="non-scaling-stroke" stroke-linejoin="round">60</text>
<rect x="424.8" y="255.16" width="322.9" height="1" fill="#7c7c7c"/>
<text transform="translate(408.44 258.66) scale(0.8812 1)" font-size="13.70" font-weight="bold" fill="#d2d2d2" stroke="#d2d2d2" stroke-width="0.25" vector-effect="non-scaling-stroke" stroke-linejoin="round">40</text>
<rect x="424.8" y="277.28" width="322.9" height="1" fill="#7c7c7c"/>
<text transform="translate(408.20 280.78) scale(0.8978 1)" font-size="13.70" font-weight="bold" fill="#d2d2d2" stroke="#d2d2d2" stroke-width="0.25" vector-effect="non-scaling-stroke" stroke-linejoin="round">20</text>
<rect x="424.8" y="299.40" width="322.9" height="1" fill="#7c7c7c"/>
<text transform="translate(414.82 302.90) scale(0.9286 1)" font-size="13.70" font-weight="bold" fill="#d2d2d2" stroke="#d2d2d2" stroke-width="0.25" vector-effect="non-scaling-stroke" stroke-linejoin="round">0</text>
<rect x="432.30" y="188.80" width="1" height="118.1" fill="#7c7c7c"/>
<rect x="510.90" y="188.80" width="1" height="118.1" fill="#7c7c7c"/>
<rect x="589.50" y="188.80" width="1" height="118.1" fill="#7c7c7c"/>
<rect x="668.10" y="188.80" width="1" height="118.1" fill="#7c7c7c"/>
<rect x="746.70" y="188.80" width="1" height="118.1" fill="#7c7c7c"/>
<text transform="translate(416.88 321.70) scale(0.9366 1)" font-size="13.70" font-weight="bold" fill="#d2d2d2" stroke="#d2d2d2" stroke-width="0.25" vector-effect="non-scaling-stroke" stroke-linejoin="round">21/22</text>
<text transform="translate(495.48 321.70) scale(0.9351 1)" font-size="13.70" font-weight="bold" fill="#d2d2d2" stroke="#d2d2d2" stroke-width="0.25" vector-effect="non-scaling-stroke" stroke-linejoin="round">22/23</text>
<text transform="translate(574.09 321.70) scale(0.9234 1)" font-size="13.70" font-weight="bold" fill="#d2d2d2" stroke="#d2d2d2" stroke-width="0.25" vector-effect="non-scaling-stroke" stroke-linejoin="round">23/24</text>
<text transform="translate(652.68 321.70) scale(0.9319 1)" font-size="13.70" font-weight="bold" fill="#d2d2d2" stroke="#d2d2d2" stroke-width="0.25" vector-effect="non-scaling-stroke" stroke-linejoin="round">24/25</text>
<text transform="translate(731.28 321.70) scale(0.9351 1)" font-size="13.70" font-weight="bold" fill="#d2d2d2" stroke="#d2d2d2" stroke-width="0.25" vector-effect="non-scaling-stroke" stroke-linejoin="round">25/26</text>
<clipPath id="clip189"><rect x="420" y="188.9" width="340" height="122.6"/></clipPath><g clip-path="url(#clip189)">
<path d="M432.8 209.21C459.00 204.42 485.20 194.83 511.4 194.83C537.60 194.83 563.80 239.07 590.0 239.07C616.20 239.07 642.40 203.53 668.6 198.15C694.80 192.77 721.00 193.90 747.2 192.62" fill="none" stroke="#f03c58" stroke-width="4" stroke-linecap="round"/>
<circle cx="432.8" cy="209.21" r="5" fill="#f03c58"/>
<circle cx="511.4" cy="194.83" r="5" fill="#f03c58"/>
<circle cx="590.0" cy="239.07" r="5" fill="#f03c58"/>
<circle cx="668.6" cy="198.15" r="5" fill="#f03c58"/>
<circle cx="747.2" cy="192.62" r="5" fill="#f03c58"/>
<path d="M432.8 196.49C459.00 196.12 485.20 196.03 511.4 195.38C537.60 194.74 563.80 192.62 590.0 192.62C616.20 192.62 642.40 193.26 668.6 195.94C694.80 198.61 721.00 204.42 747.2 208.66" fill="none" stroke="#ffffff" stroke-width="4" stroke-linecap="round"/>
<circle cx="432.8" cy="196.49" r="5" fill="#ffffff"/>
<circle cx="511.4" cy="195.38" r="5" fill="#ffffff"/>
<circle cx="590.0" cy="192.62" r="5" fill="#ffffff"/>
<circle cx="668.6" cy="195.94" r="5" fill="#ffffff"/>
<circle cx="747.2" cy="208.66" r="5" fill="#ffffff"/>
<path d="M432.8 198.15C459.00 196.67 485.20 193.72 511.4 193.72C537.60 193.72 563.80 199.25 590.0 199.25C616.20 199.25 642.40 195.94 668.6 195.94C694.80 195.94 721.00 198.89 747.2 200.36" fill="none" stroke="#e85ff5" stroke-width="4" stroke-linecap="round"/>
<circle cx="432.8" cy="198.15" r="5" fill="#e85ff5"/>
<circle cx="511.4" cy="193.72" r="5" fill="#e85ff5"/>
<circle cx="590.0" cy="199.25" r="5" fill="#e85ff5"/>
<circle cx="668.6" cy="195.94" r="5" fill="#e85ff5"/>
<circle cx="747.2" cy="200.36" r="5" fill="#e85ff5"/>
</g>
<circle cx="568.6" cy="170.7" r="8.3" fill="#e85ff5"/>
<text transform="translate(581.47 176.20) scale(0.7439 1)" font-size="16.60" font-weight="bold" fill="#dddddd" stroke="#dddddd" stroke-width="0.35" vector-effect="non-scaling-stroke" stroke-linejoin="round">CNTRB</text>
<circle cx="639.1" cy="170.7" r="8.3" fill="#ffffff"/>
<text transform="translate(651.66 176.20) scale(0.7384 1)" font-size="16.60" font-weight="bold" fill="#dddddd" stroke="#dddddd" stroke-width="0.35" vector-effect="non-scaling-stroke" stroke-linejoin="round">PAID</text>
<circle cx="696" cy="170.7" r="8.3" fill="#f03c58"/>
<text transform="translate(708.13 176.20) scale(0.7499 1)" font-size="16.60" font-weight="bold" fill="#dddddd" stroke="#dddddd" stroke-width="0.35" vector-effect="non-scaling-stroke" stroke-linejoin="round">UNPAID</text>
<rect x="424.8" y="378.50" width="322.9" height="1" fill="#7c7c7c"/>
<text transform="translate(401.35 382.00) scale(0.8981 1)" font-size="13.70" font-weight="bold" fill="#d2d2d2" stroke="#d2d2d2" stroke-width="0.25" vector-effect="non-scaling-stroke" stroke-linejoin="round">100</text>
<rect x="424.8" y="400.62" width="322.9" height="1" fill="#7c7c7c"/>
<text transform="translate(408.24 404.12) scale(0.8952 1)" font-size="13.70" font-weight="bold" fill="#d2d2d2" stroke="#d2d2d2" stroke-width="0.25" vector-effect="non-scaling-stroke" stroke-linejoin="round">80</text>
<rect x="424.8" y="422.74" width="322.9" height="1" fill="#7c7c7c"/>
<text transform="translate(408.17 426.24) scale(0.8995 1)" font-size="13.70" font-weight="bold" fill="#d2d2d2" stroke="#d2d2d2" stroke-width="0.25" vector-effect="non-scaling-stroke" stroke-linejoin="round">60</text>
<rect x="424.8" y="444.86" width="322.9" height="1" fill="#7c7c7c"/>
<text transform="translate(408.44 448.36) scale(0.8812 1)" font-size="13.70" font-weight="bold" fill="#d2d2d2" stroke="#d2d2d2" stroke-width="0.25" vector-effect="non-scaling-stroke" stroke-linejoin="round">40</text>
<rect x="424.8" y="466.98" width="322.9" height="1" fill="#7c7c7c"/>
<text transform="translate(408.20 470.48) scale(0.8978 1)" font-size="13.70" font-weight="bold" fill="#d2d2d2" stroke="#d2d2d2" stroke-width="0.25" vector-effect="non-scaling-stroke" stroke-linejoin="round">20</text>
<rect x="424.8" y="489.10" width="322.9" height="1" fill="#7c7c7c"/>
<text transform="translate(414.82 492.60) scale(0.9286 1)" font-size="13.70" font-weight="bold" fill="#d2d2d2" stroke="#d2d2d2" stroke-width="0.25" vector-effect="non-scaling-stroke" stroke-linejoin="round">0</text>
<rect x="432.30" y="378.50" width="1" height="118.1" fill="#7c7c7c"/>
<rect x="510.90" y="378.50" width="1" height="118.1" fill="#7c7c7c"/>
<rect x="589.50" y="378.50" width="1" height="118.1" fill="#7c7c7c"/>
<rect x="668.10" y="378.50" width="1" height="118.1" fill="#7c7c7c"/>
<rect x="746.70" y="378.50" width="1" height="118.1" fill="#7c7c7c"/>
<text transform="translate(416.88 511.40) scale(0.9366 1)" font-size="13.70" font-weight="bold" fill="#d2d2d2" stroke="#d2d2d2" stroke-width="0.25" vector-effect="non-scaling-stroke" stroke-linejoin="round">21/22</text>
<text transform="translate(495.48 511.40) scale(0.9351 1)" font-size="13.70" font-weight="bold" fill="#d2d2d2" stroke="#d2d2d2" stroke-width="0.25" vector-effect="non-scaling-stroke" stroke-linejoin="round">22/23</text>
<text transform="translate(574.09 511.40) scale(0.9234 1)" font-size="13.70" font-weight="bold" fill="#d2d2d2" stroke="#d2d2d2" stroke-width="0.25" vector-effect="non-scaling-stroke" stroke-linejoin="round">23/24</text>
<text transform="translate(652.68 511.40) scale(0.9319 1)" font-size="13.70" font-weight="bold" fill="#d2d2d2" stroke="#d2d2d2" stroke-width="0.25" vector-effect="non-scaling-stroke" stroke-linejoin="round">24/25</text>
<text transform="translate(731.28 511.40) scale(0.9351 1)" font-size="13.70" font-weight="bold" fill="#d2d2d2" stroke="#d2d2d2" stroke-width="0.25" vector-effect="non-scaling-stroke" stroke-linejoin="round">25/26</text>
<clipPath id="clip379"><rect x="420" y="378.6" width="340" height="122.6"/></clipPath><g clip-path="url(#clip379)">
<path d="M432.8 464.16C459.00 440.94 485.20 394.48 511.4 394.48C537.60 394.48 563.80 485.73 590.0 485.73C616.20 485.73 642.40 402.22 668.6 398.91C694.80 395.60 721.00 395.83 747.2 395.59" fill="none" stroke="#f5d222" stroke-width="4" stroke-linecap="round"/>
<circle cx="432.8" cy="464.16" r="5" fill="#f5d222"/>
<circle cx="511.4" cy="394.48" r="5" fill="#f5d222"/>
<circle cx="590.0" cy="485.73" r="5" fill="#f5d222"/>
<circle cx="668.6" cy="398.91" r="5" fill="#f5d222"/>
<circle cx="747.2" cy="395.59" r="5" fill="#f5d222"/>
<path d="M432.8 389.51C459.00 387.66 485.20 383.98 511.4 383.98C537.60 383.98 563.80 385.64 590.0 385.64C616.20 385.64 642.40 382.32 668.6 382.32C694.80 382.32 721.00 383.06 747.2 383.42" fill="none" stroke="#74e8d4" stroke-width="4" stroke-linecap="round"/>
<circle cx="432.8" cy="389.51" r="5" fill="#74e8d4"/>
<circle cx="511.4" cy="383.98" r="5" fill="#74e8d4"/>
<circle cx="590.0" cy="385.64" r="5" fill="#74e8d4"/>
<circle cx="668.6" cy="382.32" r="5" fill="#74e8d4"/>
<circle cx="747.2" cy="383.42" r="5" fill="#74e8d4"/>
<path d="M432.8 385.64C459.00 385.45 485.20 385.08 511.4 385.08C537.60 385.08 563.80 385.08 590.0 385.64C616.20 386.19 642.40 389.51 668.6 391.17C694.80 392.82 721.00 394.12 747.2 395.59" fill="none" stroke="#3ecb30" stroke-width="4" stroke-linecap="round"/>
<circle cx="432.8" cy="385.64" r="5" fill="#3ecb30"/>
<circle cx="511.4" cy="385.08" r="5" fill="#3ecb30"/>
<circle cx="590.0" cy="385.64" r="5" fill="#3ecb30"/>
<circle cx="668.6" cy="391.17" r="5" fill="#3ecb30"/>
<circle cx="747.2" cy="395.59" r="5" fill="#3ecb30"/>
</g>
<circle cx="543.4" cy="360.6" r="8.3" fill="#3ecb30"/>
<text transform="translate(555.12 365.80) scale(0.7677 1)" font-size="16.60" font-weight="bold" fill="#dddddd" stroke="#dddddd" stroke-width="0.35" vector-effect="non-scaling-stroke" stroke-linejoin="round">IND OFF</text>
<circle cx="620.6" cy="360.6" r="8.3" fill="#74e8d4"/>
<text transform="translate(632.96 365.80) scale(0.7583 1)" font-size="16.60" font-weight="bold" fill="#dddddd" stroke="#dddddd" stroke-width="0.35" vector-effect="non-scaling-stroke" stroke-linejoin="round">ON-ICE OFF</text>
<circle cx="720.2" cy="360.6" r="8.3" fill="#f5d222"/>
<text transform="translate(732.78 365.80) scale(0.7163 1)" font-size="16.60" font-weight="bold" fill="#dddddd" stroke="#dddddd" stroke-width="0.35" vector-effect="non-scaling-stroke" stroke-linejoin="round">DEF</text>
<path d="M497.3 609.5H780V684H399.5Z" fill="#c60000"/>
<text transform="translate(704.84 633.10) scale(0.8232 1)" font-size="14.40" font-weight="normal" fill="#f7c9c9" stroke="#f7c9c9" stroke-width="0.2" vector-effect="non-scaling-stroke" stroke-linejoin="round">powered by</text>
<g transform="translate(0 657.3) skewX(-9) translate(0 -657.3)">
<text transform="translate(571.77 657.30) scale(1.1765 1)" font-size="23.20" font-weight="bold" fill="#f0a6a6" font-style="italic" stroke="#f0a6a6" stroke-width="2.5" vector-effect="non-scaling-stroke" stroke-linejoin="round">BENCHRATES</text>
</g>
</g></svg></body></html>
